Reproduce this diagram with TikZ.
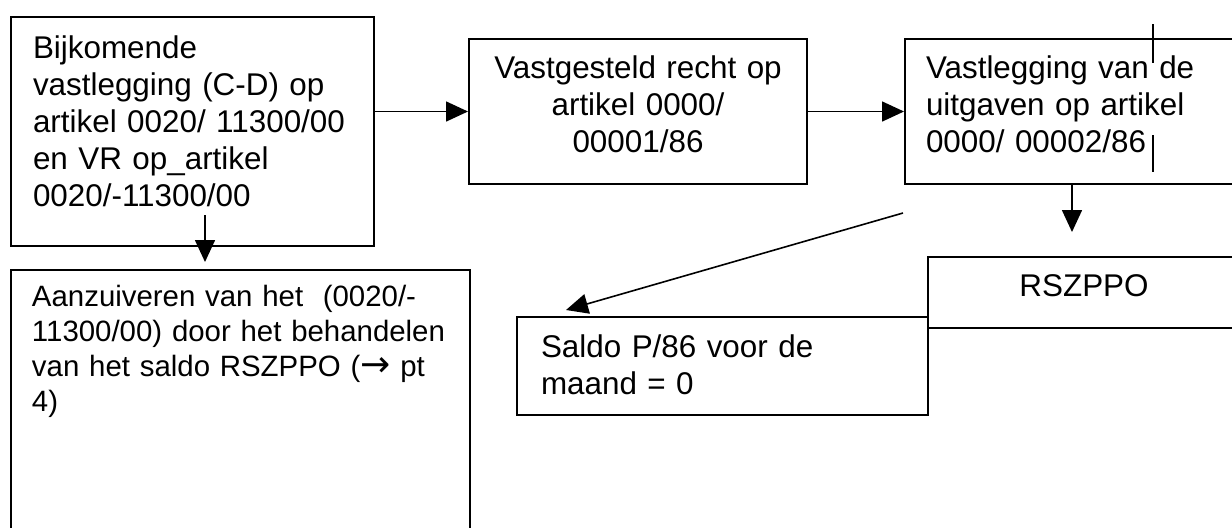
\documentclass[tikz,border=0pt]{standalone}
\usepackage{fontspec}
\setmainfont{Liberation Sans}
\newfontfamily\arrowfont{DejaVu Sans}
\usetikzlibrary{arrows.meta}

\begin{document}
\begin{tikzpicture}[x=0.5pt,y=-0.5pt,
	box/.style={draw, line width=1pt, anchor=north west, inner ysep=0pt, inner xsep=11pt, align=left, font=\fontsize{15.7}{18.5}\selectfont},
	smallbox/.style={box, font=\fontsize{14.7}{17.5}\selectfont},
	arr/.style={line width=0.8pt, -{Triangle[length=11pt,width=10pt]}}]
		\clip (0,0) rectangle (1232,527);
		\node[box, text width=159.5pt, text height=20.5pt, text depth=94pt] (A) at (10,16)
			{Bijkomende\\vastlegging (C-D) op\\artikel 0020/ 11300/00\\en VR op\_artikel\\0020/-11300/00};
		\node[smallbox, inner xsep=10.5pt, text width=208.5pt, text height=18pt, text depth=150pt] (B) at (10,269)
			{\mbox{Aanzuiveren van het~~(0020/-}\\\mbox{11300/00) door het behandelen}\\\mbox{van het saldo RSZPPO ({\arrowfont\fontsize{18}{17.5}\selectfont →} pt}\\4)};
		\node[box, align=center, inner xsep=5pt, text width=159pt, text height=19.5pt, text depth=53pt] (C) at (468,38)
			{Vastgesteld recht op\\artikel 0000/\\00001/86};
		\node[box, inner xsep=10.5pt, text width=152pt, text height=19.5pt, text depth=53pt] (D) at (904,38)
			{Vastlegging van de\\uitgaven op artikel\\0000/ 00002/86};
		\node[box, align=center, inner xsep=5pt, text width=146pt, text height=19.5pt, text depth=16pt] (E) at (927,256)
			{RSZPPO};
		\node[box, inner xsep=12pt, text width=181.5pt, text height=20pt, text depth=29pt] (F) at (516,316)
			{Saldo P/86 voor de\\maand = 0};
		\coordinate (a1) at (205,215);
		\coordinate (d1) at (1072,232);
		\coordinate (s1) at (903,213);
		\draw[arr, shorten >=3.5pt] (a1) -- (a1 |- B.north);
		\draw[arr] (A.east |- C.west) -- (C.west);
		\draw[arr] (C.east) -- (D.west);
		\draw[arr] (d1 |- D.south) -- (d1);
		\draw[arr] (s1) -- ([xshift=25pt,yshift=3pt]F.north west);
		\draw[line width=0.6pt] (1153,24) -- (1153,63) (1153,135) -- (1153,172);
\end{tikzpicture}
\end{document}
